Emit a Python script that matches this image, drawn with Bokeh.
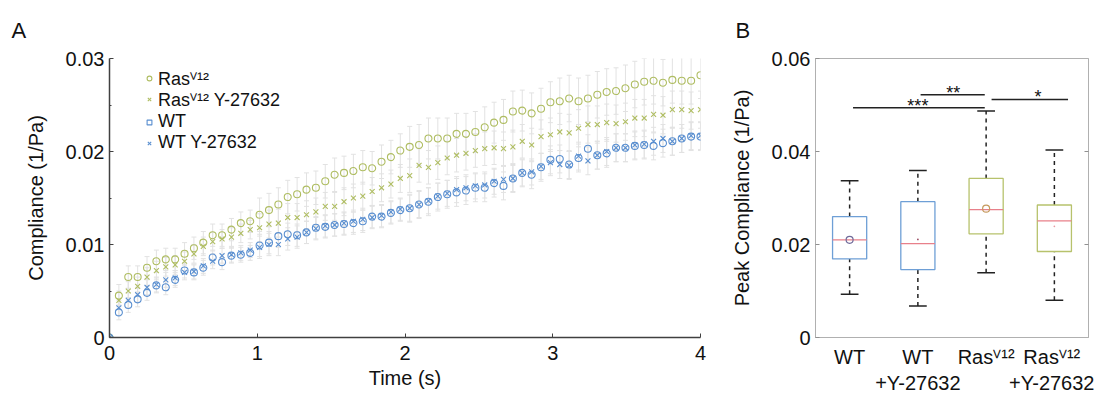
import numpy as np
from bokeh.plotting import figure
from bokeh.layouts import row
from bokeh.models import (ColumnDataSource, Whisker, TeeHead, Legend, LegendItem,
                          FixedTicker, LinearAxis)
from bokeh.embed import file_html
from bokeh.resources import INLINE

FONT = "Liberation Sans"
SUP = "\u2C7D\u00B9\u00B2"

# ---------------- Panel A data ----------------
t = np.linspace(0, 4, 64)

ras = [0,
       0.0045, 0.0065, 0.0065, 0.0075, 0.0082, 0.0084, 0.0084, 0.0090, 0.0096, 0.0102, 0.0110, 0.0110, 0.0116, 0.0123, 0.0125,
       0.0132, 0.0137, 0.0143, 0.0151, 0.0154, 0.0159, 0.0161, 0.0168, 0.0175, 0.0177, 0.0179, 0.0183, 0.0182, 0.0189, 0.0194, 0.0201,
       0.0205, 0.0207, 0.0214, 0.0214, 0.0214, 0.0219, 0.0219, 0.0221, 0.0226, 0.0231, 0.0234, 0.0243, 0.0244, 0.0241, 0.0246, 0.0253,
       0.0254, 0.0257, 0.0254, 0.0257, 0.0261, 0.0264, 0.0265, 0.0268, 0.0272, 0.0275, 0.0276, 0.0274, 0.0277, 0.0276, 0.0276, 0.0282]

ras_y = [0,
         0.0040, 0.0050, 0.0055, 0.0065, 0.0072, 0.0076, 0.0078, 0.0082, 0.0090, 0.0098, 0.0103, 0.0106, 0.0108, 0.0112, 0.0116,
         0.0118, 0.0122, 0.0123, 0.0129, 0.0129, 0.0132, 0.0135, 0.0141, 0.0141, 0.0146, 0.0150, 0.0152, 0.0157, 0.0161, 0.0165, 0.0171,
         0.0174, 0.0185, 0.0183, 0.0188, 0.0193, 0.0196, 0.0198, 0.0201, 0.0203, 0.0204, 0.0203, 0.0205, 0.0211, 0.0207, 0.0216, 0.0218,
         0.0221, 0.0220, 0.0225, 0.0229, 0.0229, 0.0231, 0.0230, 0.0232, 0.0236, 0.0236, 0.0240, 0.0239, 0.0245, 0.0245, 0.0244, 0.0245]

wt = [0,
      0.0027, 0.0035, 0.0041, 0.0048, 0.0056, 0.0054, 0.0062, 0.0072, 0.0070, 0.0075, 0.0086, 0.0081, 0.0088, 0.0089, 0.0091,
      0.0099, 0.0102, 0.0109, 0.0111, 0.0110, 0.0113, 0.0118, 0.0119, 0.0121, 0.0122, 0.0123, 0.0125, 0.0130, 0.0130, 0.0134, 0.0137,
      0.0139, 0.0143, 0.0146, 0.0151, 0.0154, 0.0156, 0.0158, 0.0161, 0.0161, 0.0166, 0.0163, 0.0171, 0.0177, 0.0175, 0.0183, 0.0191,
      0.0192, 0.0186, 0.0193, 0.0203, 0.0196, 0.0198, 0.0204, 0.0204, 0.0206, 0.0207, 0.0206, 0.0209, 0.0211, 0.0214, 0.0216, 0.0216]

wt_y = [0,
        0.0032, 0.0040, 0.0046, 0.0054, 0.0057, 0.0062, 0.0064, 0.0070, 0.0071, 0.0077, 0.0082, 0.0088, 0.0089, 0.0091, 0.0094,
        0.0097, 0.0100, 0.0100, 0.0106, 0.0108, 0.0113, 0.0117, 0.0120, 0.0121, 0.0123, 0.0125, 0.0127, 0.0129, 0.0131, 0.0135, 0.0138,
        0.0139, 0.0143, 0.0147, 0.0152, 0.0155, 0.0159, 0.0161, 0.0163, 0.0164, 0.0168, 0.0170, 0.0171, 0.0177, 0.0178, 0.0184, 0.0188,
        0.0186, 0.0185, 0.0195, 0.0190, 0.0196, 0.0200, 0.0204, 0.0204, 0.0207, 0.0208, 0.0211, 0.0214, 0.0211, 0.0214, 0.0217, 0.0217]

# approximate error-bar half widths, per second of time (0-1, 1-2, 2-3, 3-4)
err_ras = [0.0012, 0.0018, 0.0022, 0.0025]
err_ras_y = [0.0010, 0.0015, 0.0018, 0.0020]
err_wt = [0.0008, 0.0012, 0.0015, 0.0015]
err_wt_y = [0.0008, 0.0012, 0.0014, 0.0015]

series_labels = ["Ras" + SUP, "Ras" + SUP + " Y-27632", "WT", "WT Y-27632"]

GREEN = "#afbd62"
BLUE = "#5a8fd0"
ERR = "#e2e2e2"

# ---------------- Panel B data ----------------
groups = [1, 2, 3, 4]
group_labels = ["WT", "WT\n+Y-27632", "Ras" + SUP, "Ras" + SUP + "\n+Y-27632"]
lower_w = [0.0093, 0.0068, 0.0139, 0.0080]
q1 = [0.0169, 0.0146, 0.0223, 0.0185]
med = [0.0210, 0.0202, 0.0275, 0.0251]
q3 = [0.0260, 0.0292, 0.0342, 0.0285]
upper_w = [0.0337, 0.0359, 0.0487, 0.0403]
mean = [0.0210, 0.0211, 0.0277, 0.0239]
box_colors = ["#6e9fd6", "#6e9fd6", "#b7c26c", "#b7c26c"]
mean_markers = ["circle", "dot", "circle", "dot"]
mean_colors = ["#6f6a9a", "#9a4a60", "#c69a5e", "#e89aa2"]
# significance bars: (from, to, level, stars, star x)
sig = [(1.05, 2.98, 0.0494, "***", 2.0),
       (2.04, 2.98, 0.0522, "**", 2.52),
       (3.08, 4.20, 0.0512, "*", 3.76)]

H = 396

# ================= Panel A =================
pA = figure(width=716, height=H, x_range=(0, 4), y_range=(0, 0.03),
            output_backend="svg", toolbar_location=None,
            min_border_left=109, min_border_right=16, min_border_top=57, min_border_bottom=50)
pA.outline_line_color = None
pA.grid.grid_line_color = None


def seg_err(errs):
    return np.array([errs[min(int(v), 3)] for v in t])


data = [(ras, err_ras, "circle", GREEN), (ras_y, err_ras_y, "x", GREEN),
        (wt, err_wt, "circle", BLUE), (wt_y, err_wt_y, "x", BLUE)]
renderers = []
for vals, errs, mk, col in data:
    v = np.array(vals)
    e = seg_err(errs)
    e[0] = 0
    src = ColumnDataSource(dict(t=t, v=v, up=v + e, lo=v - e))
    w = Whisker(base="t", upper="up", lower="lo", source=src, line_color=ERR, line_width=1,
                upper_head=TeeHead(size=5, line_color=ERR), lower_head=TeeHead(size=5, line_color=ERR))
    pA.add_layout(w)
    renderers.append((src, mk, col))

legend_rs = []
for src, mk, col in renderers:
    r = pA.scatter("t", "v", source=src, marker=mk, size=7, line_color=col, fill_color=None, line_width=1.1)
    legend_rs.append(r)

# WT legend shows a square glyph (proxy renderer with no visible point)
proxy = pA.scatter(x=[np.nan], y=[np.nan], marker="square", size=6, line_color=BLUE,
                   fill_color=None, line_width=1.1)
leg_renderers = [legend_rs[0], legend_rs[1], proxy, legend_rs[3]]
leg_y = [247, 226, 205, 184]
for lab, rr, ly in zip(series_labels, leg_renderers, leg_y):
    leg = Legend(items=[LegendItem(label=lab, renderers=[rr])], location=(34, ly),
                 glyph_width=12, glyph_height=18, label_height=18,
                 spacing=0, padding=0, margin=0, background_fill_alpha=0, border_line_color=None,
                 label_text_font_size="18px", label_text_font=FONT, label_standoff=3,
                 label_text_color="#111111")
    pA.add_layout(leg)

for ax in [pA.xaxis[0], pA.yaxis[0]]:
    ax.axis_line_color = "#404040"
    ax.axis_line_width = 1.5
    ax.major_tick_line_color = "#404040"
    ax.minor_tick_line_color = "#404040"
    ax.major_tick_in = 4
    ax.major_tick_out = 0
    ax.minor_tick_in = 2
    ax.minor_tick_out = 0
    ax.major_label_text_font = FONT
    ax.major_label_text_font_size = "20px"
    ax.major_label_text_color = "#111111"
    ax.axis_label_text_font = FONT
    ax.axis_label_text_font_size = "20px"
    ax.axis_label_text_font_style = "normal"
    ax.axis_label_text_color = "#111111"

pA.xaxis.ticker = FixedTicker(ticks=[0, 1, 2, 3, 4], minor_ticks=[])
pA.xaxis.major_label_overrides = {0: "0", 1: "1", 2: "2", 3: "3", 4: "4"}
pA.xaxis.axis_label = "Time (s)"
pA.xaxis.major_label_standoff = 8
pA.xaxis.axis_label_standoff = 4

pA.yaxis.ticker = FixedTicker(ticks=[0, 0.01, 0.02, 0.03], minor_ticks=[0.005, 0.015, 0.025])
pA.yaxis.major_label_overrides = {0: "0", 0.01: "0.01", 0.02: "0.02", 0.03: "0.03"}
pA.yaxis.axis_label = "Compliance (1/Pa)"
pA.yaxis.major_label_standoff = 5
pA.yaxis.axis_label_standoff = 16

pA.title.text = "A"
pA.title.align = "left"
pA.title.offset = -98
pA.title.standoff = 31
pA.title.text_font = FONT
pA.title.text_font_size = "22px"
pA.title.text_font_style = "normal"
pA.title.text_color = "#111111"

# ================= Panel B =================
pB = figure(width=378, height=H, x_range=(0.5, 4.5), y_range=(0, 0.06),
            output_backend="svg", toolbar_location=None,
            min_border_left=99, min_border_right=6, min_border_top=57, min_border_bottom=50)
pB.grid.grid_line_color = None
pB.outline_line_color = "#b0b0b0"
pB.outline_line_width = 1

g = np.array(groups, dtype=float)
srcB = ColumnDataSource(dict(x=g, lw=lower_w, q1=q1, med=med, q3=q3, uw=upper_w, mean=mean,
                             xl=g - 0.25, xr=g + 0.25, cl=g - 0.13, cr=g + 0.13,
                             bc=box_colors, mk=mean_markers, mc=mean_colors))
pB.segment("x", "q3", "x", "uw", source=srcB, line_color="#222222", line_width=1.5, line_dash="4 4")
pB.segment("x", "lw", "x", "q1", source=srcB, line_color="#222222", line_width=1.5, line_dash="4 4")
pB.segment("cl", "uw", "cr", "uw", source=srcB, line_color="#222222", line_width=1.5)
pB.segment("cl", "lw", "cr", "lw", source=srcB, line_color="#222222", line_width=1.5)
pB.vbar(x="x", width=0.5, top="q3", bottom="q1", source=srcB, fill_color="white",
        line_color="bc", line_width=1.3)
pB.segment("xl", "med", "xr", "med", source=srcB, line_color="#e8808a", line_width=1.3)
pB.scatter("x", "mean", source=srcB, marker="mk", size=7, line_color="mc", fill_color=None, line_width=1.2)

for x0, x1, lvl, stars, sx in sig:
    pB.segment(x0=[x0], y0=[lvl], x1=[x1], y1=[lvl], line_color="#222222", line_width=1.5)
    pB.text(x=[sx], y=[lvl], text=[stars], text_align="center", text_baseline="alphabetic",
            y_offset=-2, text_font_size="18px", text_color="#111111",
            text_font={"value": FONT})

for ax in [pB.xaxis[0], pB.yaxis[0]]:
    ax.axis_line_color = "#b0b0b0"
    ax.major_tick_line_color = "#909090"
    ax.major_tick_in = 4
    ax.major_tick_out = 0
    ax.minor_tick_line_color = None
    ax.major_label_text_font = FONT
    ax.major_label_text_font_size = "20px"
    ax.major_label_text_color = "#111111"
    ax.axis_label_text_font = FONT
    ax.axis_label_text_font_size = "20px"
    ax.axis_label_text_font_style = "normal"
    ax.axis_label_text_color = "#111111"

pB.yaxis.ticker = FixedTicker(ticks=[0, 0.02, 0.04, 0.06], minor_ticks=[])
pB.yaxis.major_label_overrides = {0: "0", 0.02: "0.02", 0.04: "0.04", 0.06: "0.06"}
pB.yaxis.axis_label = "Peak Compliance (1/Pa)"
pB.yaxis.major_label_standoff = 5
pB.yaxis.axis_label_standoff = 16

pB.xaxis.ticker = FixedTicker(ticks=groups, minor_ticks=[])
pB.xaxis.major_label_overrides = {k: lab for k, lab in zip(groups, group_labels)}
pB.xaxis.major_tick_line_color = None
pB.xaxis.major_label_standoff = 8

rax = LinearAxis(ticker=FixedTicker(ticks=[0.02, 0.04], minor_ticks=[]),
                 axis_line_color="#b0b0b0", major_tick_line_color="#909090",
                 major_tick_in=4, major_tick_out=0, minor_tick_line_color=None,
                 major_label_overrides={0.02: "", 0.04: ""})
pB.add_layout(rax, "right")

pB.title.text = "B"
pB.title.align = "left"
pB.title.offset = -80
pB.title.standoff = 31
pB.title.text_font = FONT
pB.title.text_font_size = "22px"
pB.title.text_font_style = "normal"
pB.title.text_color = "#111111"

layout = row(pA, pB)
open("out.html", "w").write(file_html(layout, INLINE))
